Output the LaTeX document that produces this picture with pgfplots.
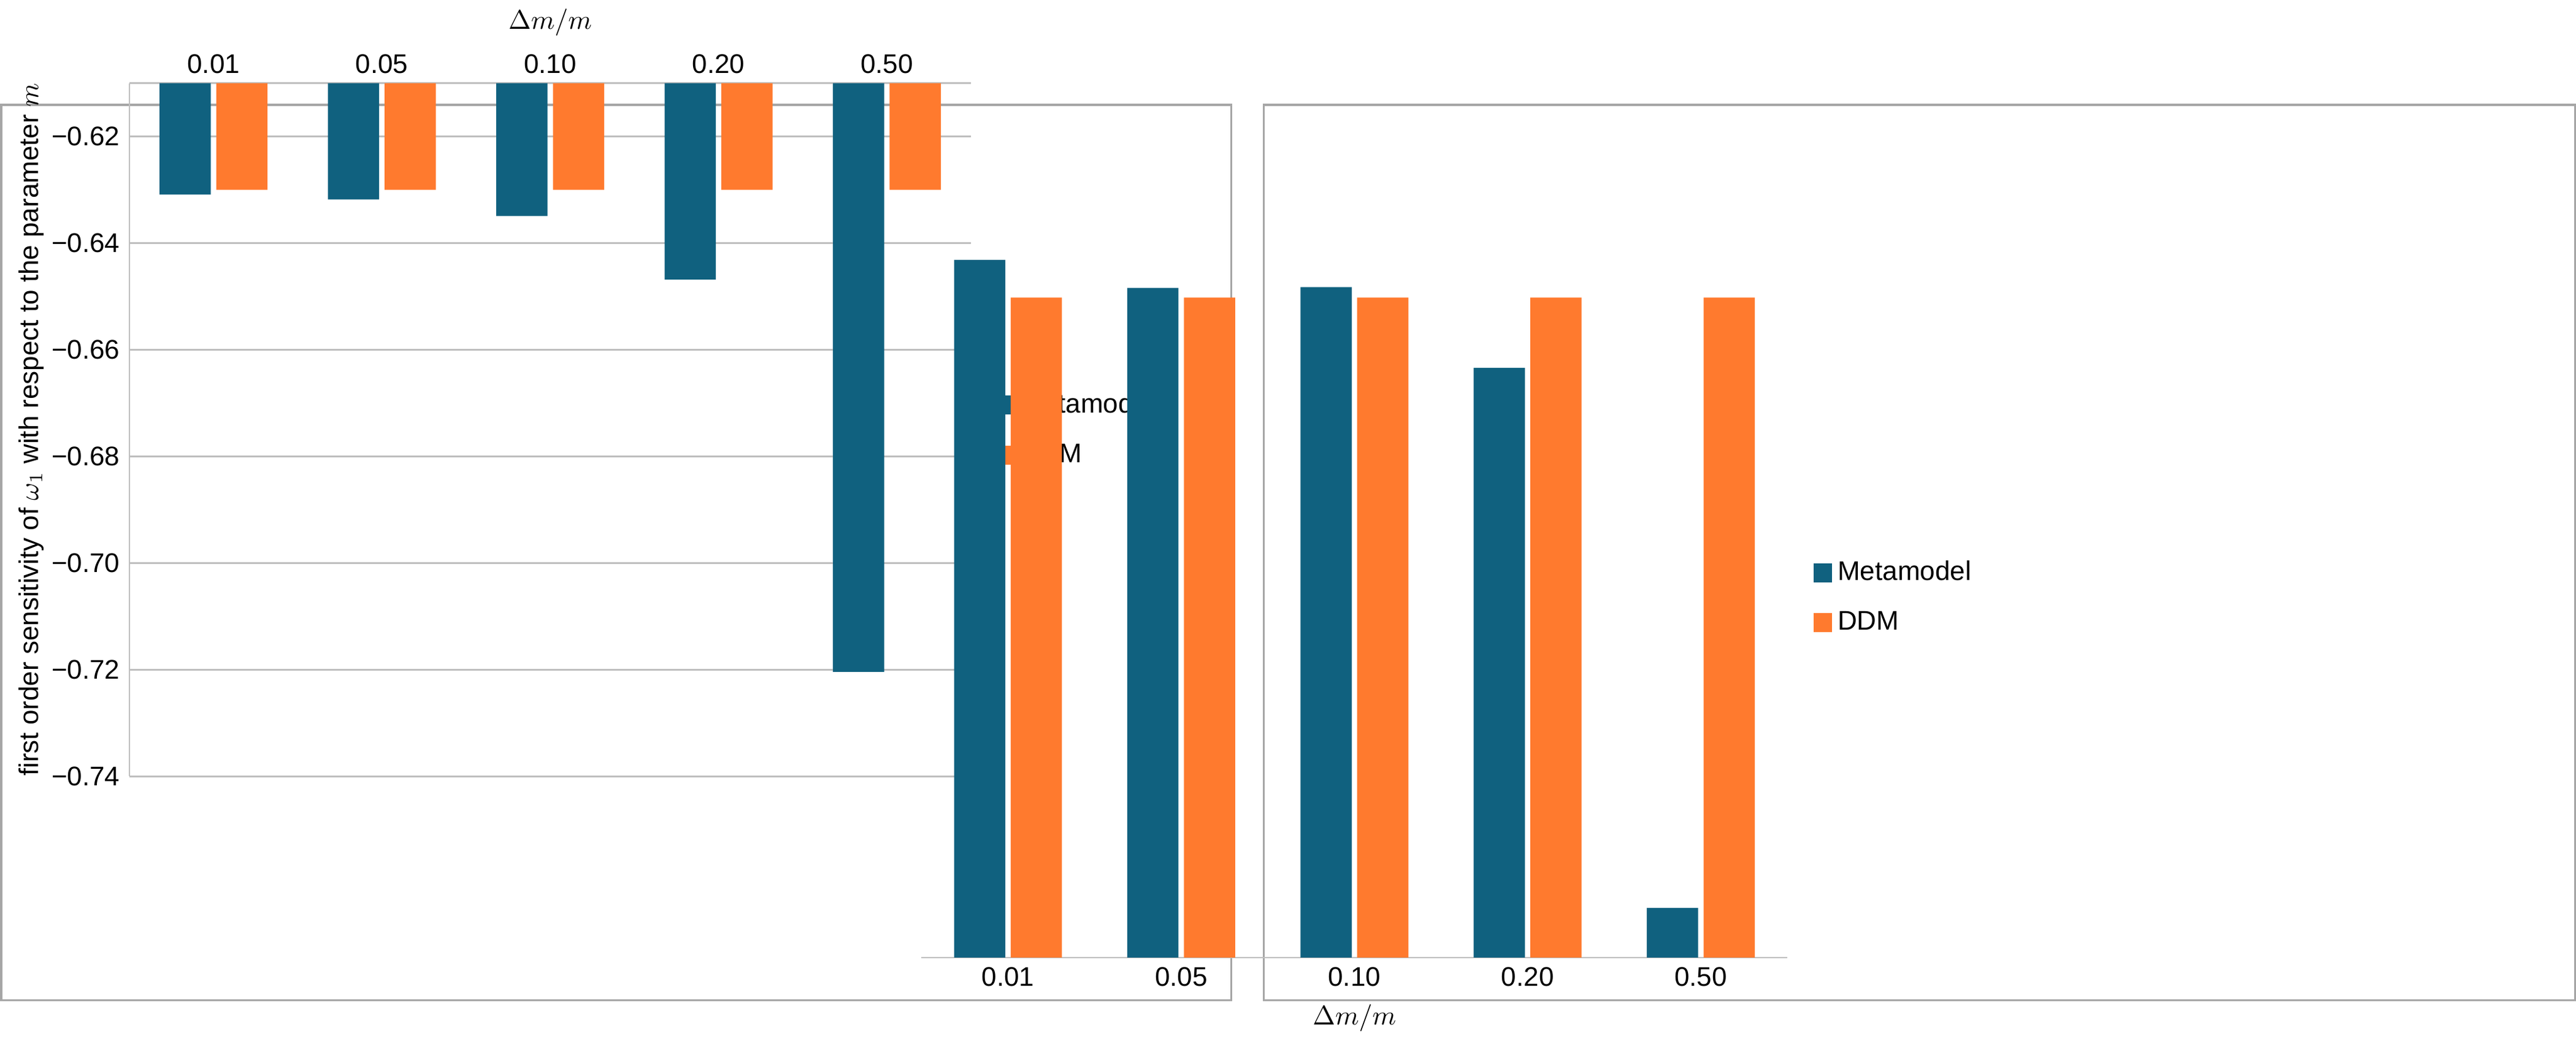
\documentclass[border=0pt]{standalone}
\usepackage{pgfplots}
\pgfplotsset{compat=1.18}
\usepackage{fontspec}
\setmainfont{Liberation Sans}
\definecolor{meta}{HTML}{10617F}
\definecolor{ddm}{HTML}{FF7A2E}
\definecolor{gridc}{HTML}{BFBFBF}
\begin{document}
\begin{tikzpicture}[x=1pt,y=1pt,font=\fontsize{10}{12}\selectfont]
\draw[gray!70,line width=0.8pt] (3,2) rectangle (459,334);
\draw[gray!70,line width=0.8pt] (471,2) rectangle (957,334);
\pgfplotsset{
  mystyle/.style={
    scale only axis, ybar, bar width=19pt,
    xtick=data, xmin=-0.5, xmax=4.5,
    xticklabels={0.01,0.05,0.10,0.20,0.50},
    major tick length=0pt,
    ymajorgrids, grid style={gridc,line width=0.6pt},
    axis line style={gridc,line width=0.6pt},
    tick label style={font=\fontsize{10}{12}\selectfont},
    label style={font=\fontsize{10}{12}\selectfont},
    legend style={draw=none,fill=none,font=\fontsize{10}{12}\selectfont,legend cell align=left,at={(1.02,0.5)},anchor=west,row sep=6pt},
    legend image code/.code={\fill[#1] (0pt,-3.5pt) rectangle (7pt,3.5pt);},
    xlabel={$\Delta m/m$},
  }
}
\begin{axis}[mystyle, at={(81,43)}, anchor=south west, width=312pt, height=257pt,
  ymin=-0.74, ymax=-0.61, axis x line*=top, axis y line*=left,
  xticklabel pos=upper, xlabel style={at={(0.5,1)},above=14pt,anchor=south},
  ytick={-0.62,-0.64,-0.66,-0.68,-0.70,-0.72,-0.74},
  yticklabels={−0.62,−0.64,−0.66,−0.68,−0.70,−0.72,−0.74},
  ylabel={first order sensitivity of $\omega_1$ with respect to the parameter $m$},
  ylabel style={yshift=-4pt},
  bar shift auto]
\addplot[fill=meta,draw=none] coordinates {(0,-0.6309) (1,-0.6318) (2,-0.6349) (3,-0.6468) (4,-0.7204)};
\addplot[fill=ddm,draw=none] coordinates {(0,-0.630) (1,-0.630) (2,-0.630) (3,-0.630) (4,-0.630)};
\legend{Metamodel,DDM}
\end{axis}
\begin{axis}[mystyle, at={(536,60)}, anchor=south west, width=321pt, height=267pt,
  ymin=0.087, ymax=0.096, axis x line*=bottom, axis y line=none,
  ytick={0.087,0.088,...,0.0965},
  yticklabel style={/pgf/number format/.cd,fixed,fixed zerofill,precision=3},
  /pgf/number format/assume math mode=true,
  ylabel={second order sensitivity of $\omega_1$ with respect to the\\parameter $m$},
  ylabel style={align=center},
  ymin=0.087,
  bar shift auto]
\addplot[fill=meta,draw=none] coordinates {(0,0.09572) (1,0.09537) (2,0.09538) (3,0.09437) (4,0.08762)};
\addplot[fill=ddm,draw=none] coordinates {(0,0.09525) (1,0.09525) (2,0.09525) (3,0.09525) (4,0.09525)};
\legend{Metamodel,DDM}
\end{axis}
\end{tikzpicture}
\end{document}
